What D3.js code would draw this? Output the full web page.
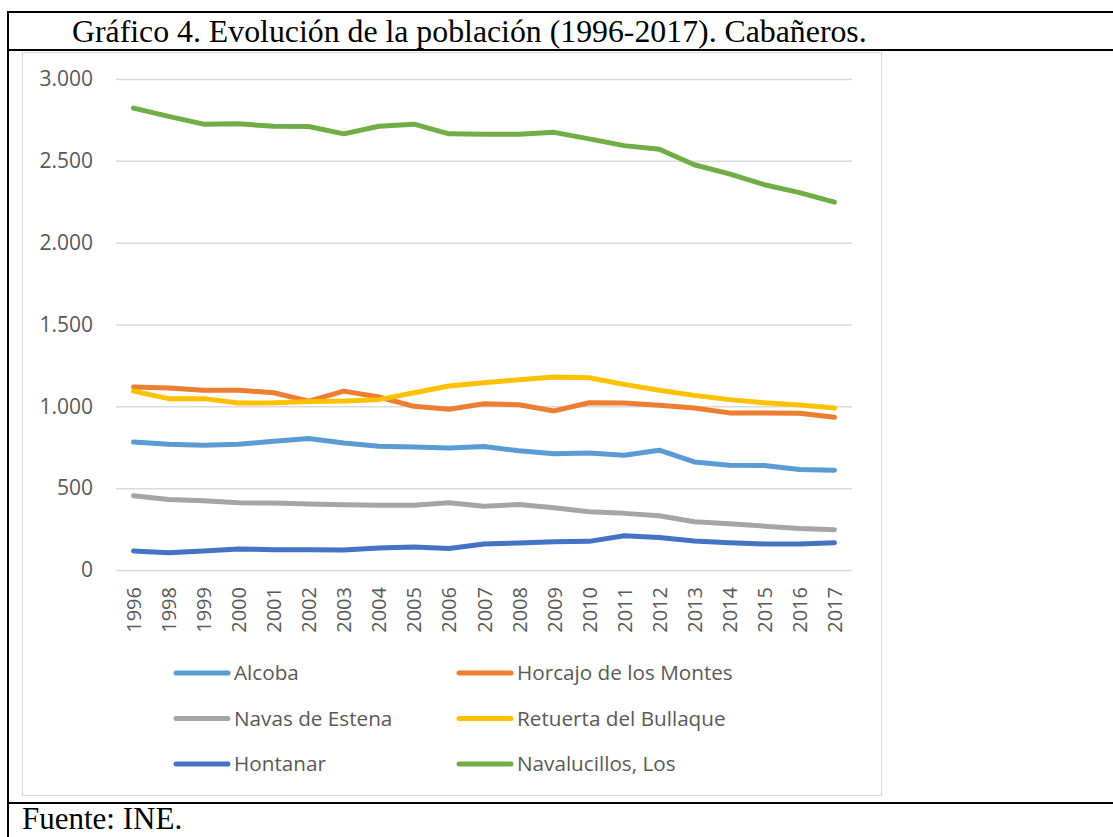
<!DOCTYPE html>
<html>
<head>
<meta charset="utf-8">
<script src="https://cdn.jsdelivr.net/npm/d3@7"></script>
<style>
  body { margin: 0; background: #fff; }
  svg { display: block; }
</style>
</head>
<body>
<script>
const years = ["1996", "1998", "1999", "2000", "2001", "2002", "2003", "2004", "2005", "2006", "2007",
  "2008", "2009", "2010", "2011", "2012", "2013", "2014", "2015", "2016", "2017"]
const yTicks = [0, 500, 1000, 1500, 2000, 2500, 3000]

const alcoba = [782, 768, 762, 768, 787, 803, 776, 756, 752, 746, 754, 728, 711, 715, 701, 732, 660, 640, 638, 614, 610]
const horcajo = [1118, 1112, 1098, 1098, 1083, 1032, 1093, 1057, 1000, 982, 1016, 1010, 972, 1022, 1020, 1006, 990, 960, 960, 958, 933]
const navas = [453, 431, 423, 411, 409, 404, 398, 396, 396, 411, 390, 400, 380, 356, 346, 331, 295, 282, 268, 254, 246]
const retuerta = [1093, 1047, 1047, 1020, 1022, 1030, 1032, 1041, 1083, 1124, 1144, 1163, 1179, 1175, 1134, 1098, 1067, 1041, 1022, 1008, 990]
const hontanar = [116, 106, 116, 128, 124, 124, 122, 134, 140, 132, 159, 165, 173, 175, 209, 199, 177, 167, 159, 159, 167]
const navalucillos = [2822, 2772, 2724, 2726, 2711, 2710, 2665, 2711, 2724, 2665, 2662, 2662, 2674, 2634, 2593, 2571, 2476, 2420, 2354, 2306, 2248]

const names = ["Alcoba", "Horcajo de los Montes", "Navas de Estena", "Retuerta del Bullaque", "Hontanar", "Navalucillos, Los"]
const colors = ["#5B9BD5", "#ED7D31", "#A5A5A5", "#FFC000", "#4472C4", "#70AD47"]
const series = [alcoba, horcajo, navas, retuerta, hontanar, navalucillos]

const width = 1113, height = 837
const font = "'Open Sans', sans-serif"
const serif = "'Liberation Serif', 'Times New Roman', serif"
const grey = "#595959"

const svg = d3.select("body").append("svg")
    .attr("width", width).attr("height", height)

// table frame around the chart (document layout)
const frame = svg.append("g").attr("stroke", "#000").attr("stroke-width", 2)
frame.append("line").attr("x1", 7).attr("x2", width).attr("y1", 12).attr("y2", 12)
frame.append("line").attr("x1", 7).attr("x2", width).attr("y1", 50).attr("y2", 50)
frame.append("line").attr("x1", 7).attr("x2", width).attr("y1", 803).attr("y2", 803)
frame.append("line").attr("x1", 8).attr("x2", 8).attr("y1", 11).attr("y2", height)

svg.append("text")
    .attr("x", 72).attr("y", 42)
    .attr("font-family", serif)
    .attr("font-size", 31.8)
    .text("Gráfico 4. Evolución de la población (1996-2017). Cabañeros.")

svg.append("text")
    .attr("x", 22).attr("y", 829)
    .attr("font-family", serif)
    .attr("font-size", 31)
    .text("Fuente: INE.")

// chart area box
svg.append("rect")
    .attr("x", 22.5).attr("y", 52.5).attr("width", 859).attr("height", 743)
    .attr("fill", "#fff").attr("stroke", "#d9d9d9")

const margin = {top: 79, right: 852, bottom: 570, left: 116}

const x = d3.scalePoint()
    .domain(years)
    .range([margin.left, margin.right])
    .padding(0.5)

const y = d3.scaleLinear()
    .domain([0, 3000])
    .range([margin.bottom, margin.top])

// gridlines + y labels
const yAxis = g => g
    .attr("transform", `translate(${margin.left},0)`)
    .call(d3.axisLeft(y).tickValues(yTicks)
        .tickSize(-(margin.right - margin.left))
        .tickPadding(23)
        .tickFormat(d => d3.format(",")(d).replace(/,/g, ".")))
    .call(g => g.select(".domain").remove())
    .call(g => g.selectAll(".tick line").attr("stroke", "#d9d9d9").attr("stroke-width", 1.5))
    .call(g => g.selectAll(".tick text")
        .attr("fill", grey).attr("font-family", font).attr("font-size", 21))

svg.append("g").call(yAxis)

const xAxis = g => g
    .attr("transform", `translate(0,${margin.bottom})`)
    .call(d3.axisBottom(x).tickSize(0).tickPadding(0))
    .call(g => g.select(".domain").remove())
    .call(g => g.selectAll(".tick text")
        .attr("fill", grey).attr("font-family", font).attr("font-size", 20)
        .attr("text-anchor", "end")
        .attr("dy", "0.35em")
        .attr("transform", "translate(0,17) rotate(-90)"))

svg.append("g").call(xAxis)

const line = d3.line()
    .x((d, i) => x(years[i]))
    .y(d => y(d))

svg.append("g")
    .selectAll("path")
    .data(series)
    .join("path")
        .attr("d", d => line(d))
        .attr("fill", "none")
        .attr("stroke", (d, i) => colors[i])
        .attr("stroke-width", 5)
        .attr("stroke-linecap", "round")
        .attr("stroke-linejoin", "round")

// legend, two columns
const legend = svg.append("g")
    .selectAll("g")
    .data(names)
    .join("g")
        .attr("transform", (d, i) => `translate(${i % 2 === 0 ? 176 : 459},${673 + Math.floor(i / 2) * 45.5})`)

legend.append("line")
    .attr("x1", 0).attr("x2", 52)
    .attr("stroke", (d, i) => colors[i])
    .attr("stroke-width", 5)
    .attr("stroke-linecap", "round")

legend.append("text")
    .attr("x", 58).attr("dy", "0.35em")
    .attr("fill", grey).attr("font-family", font).attr("font-size", 20.7)
    .text(d => d)
</script>
</body>
</html>
